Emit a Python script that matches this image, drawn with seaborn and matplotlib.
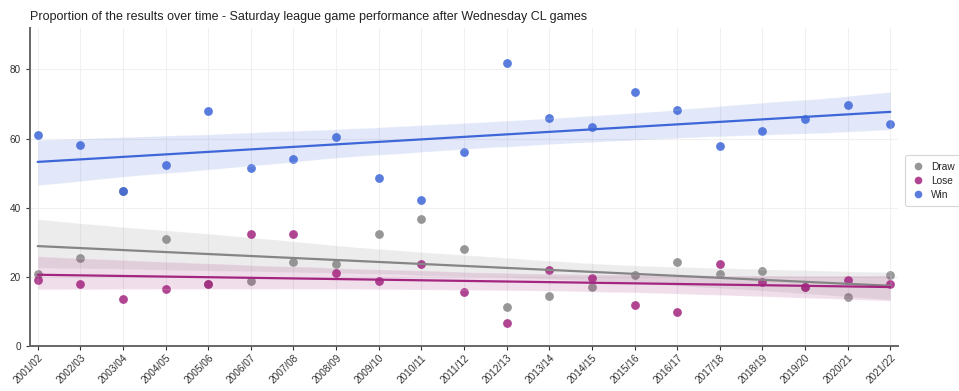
import numpy as np
import pandas as pd
import matplotlib
matplotlib.use("Agg")
import matplotlib.pyplot as plt
from matplotlib.lines import Line2D
import seaborn as sns

seasons = ["2001/02", "2002/03", "2003/04", "2004/05", "2005/06", "2006/07", "2007/08",
           "2008/09", "2009/10", "2010/11", "2011/12", "2012/13", "2013/14", "2014/15",
           "2015/16", "2016/17", "2017/18", "2018/19", "2019/20", "2020/21", "2021/22"]

win = [61.1, 58.2, 44.8, 52.4, 68.0, 51.4, 54.1, 60.5, 48.6, 42.1, 56.2,
       81.8, 66.0, 63.4, 73.6, 68.4, 57.9, 62.3, 65.8, 69.8, 64.1]
lose = [19.2, 17.9, 13.7, 16.6, 17.9, 32.4, 32.4, 21.1, 18.8, 23.7, 15.6,
        6.7, 22.0, 19.6, 11.8, 9.8, 23.7, 18.4, 17.1, 19.1, 18.0]
draw = [20.9, 25.4, 44.8, 31.0, 17.9, 18.8, 24.3, 23.8, 32.4, 36.8, 28.1,
        11.3, 14.6, 17.0, 20.5, 24.4, 20.9, 21.6, 17.1, 14.3, 20.5]

outcomes = ["Draw", "Lose", "Win"]
palette = {"Draw": "#858585", "Lose": "#a3257f", "Win": "#3d66d8"}

df = pd.DataFrame({"season": seasons, "Draw": draw, "Lose": lose, "Win": win})
df["pos"] = pd.Categorical(df["season"], categories=seasons).codes
long_df = df.melt(id_vars=["season", "pos"], value_vars=outcomes,
                  var_name="result", value_name="pct")

sns.set_style("whitegrid", {"grid.color": "#f0f0f0", "axes.edgecolor": "#666666"})
plt.rcParams["font.family"] = ["Liberation Sans", "DejaVu Sans"]

fig = plt.figure(figsize=(9.59, 3.91), dpi=100)
ax = fig.add_axes([0.0313, 0.1151, 0.9051, 0.8133])

for res in outcomes:
    sub = long_df[long_df["result"] == res]
    sns.regplot(data=sub, x="pos", y="pct", ax=ax, color=palette[res],
                scatter_kws={"s": 40, "alpha": 0.85, "linewidths": 0},
                line_kws={"lw": 1.6}, seed=3, truncate=True)

ax.set_xlim(-0.18, len(seasons) - 1 + 0.18)
ax.set_ylim(0, 92)
ax.set_xticks(range(len(seasons)))
ax.set_xticklabels(seasons, rotation=45, ha="right", rotation_mode="anchor")
ax.set_yticks([0, 20, 40, 60, 80])
ax.set_xlabel("")
ax.set_ylabel("")
ax.tick_params(axis="both", labelsize=7.2, colors="#333333", length=3, width=0.8,
               direction="out", bottom=True, left=True)
ax.tick_params(axis="x", pad=2)
for side in ["top", "right"]:
    ax.spines[side].set_visible(False)
for side in ["left", "bottom"]:
    ax.spines[side].set_linewidth(1.4)
    ax.spines[side].set_color("#666666")

handles = [Line2D([], [], marker="o", linestyle="", markersize=5.5,
                  markerfacecolor=palette[r], markeredgewidth=0, alpha=0.85)
           for r in outcomes]
leg = ax.legend(handles, outcomes, loc="center left", bbox_to_anchor=(1.002, 0.52),
                fontsize=7.3, frameon=True, handletextpad=0.6, borderpad=0.6,
                labelspacing=0.4, handlelength=1.4)
leg.get_frame().set_edgecolor("#cccccc")
leg.get_frame().set_linewidth(0.8)

fig.text(0.031, 0.957,
         "Proportion of the results over time - Saturday league game performance after Wednesday CL games",
         fontsize=9.0, color="#222222", ha="left", va="center")

fig.savefig("out.png", dpi=100)
